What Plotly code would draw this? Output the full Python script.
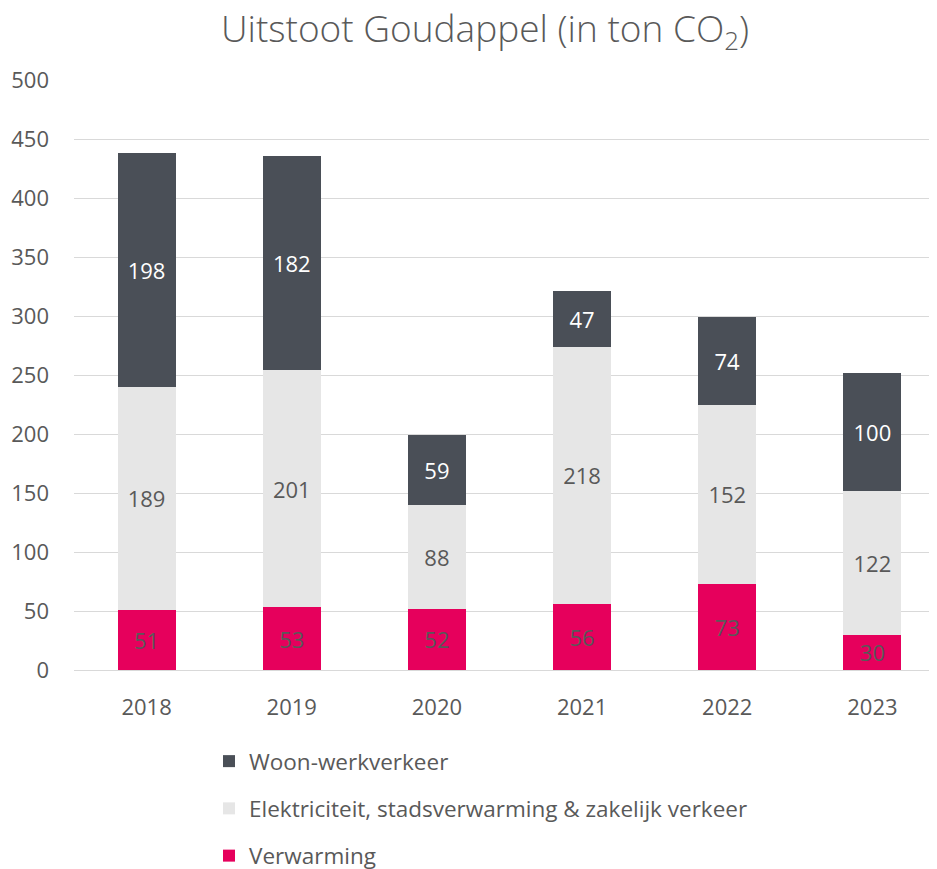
import plotly.graph_objects as go

years = ["2018", "2019", "2020", "2021", "2022", "2023"]
verwarming = [51, 53, 52, 56, 73, 30]
elektriciteit = [189, 201, 88, 218, 152, 122]
woon_werk = [198, 182, 59, 47, 74, 100]

names = ["Verwarming", "Elektriciteit, stadsverwarming & zakelijk verkeer", "Woon-werkverkeer"]
colors = ["#E6005C", "#E6E6E6", "#4A4F57"]
label_colors = ["#595959", "#595959", "#FFFFFF"]
series = [verwarming, elektriciteit, woon_werk]

FONT = "Open Sans"

fig = go.Figure()
for i, (nm, vals) in enumerate(zip(names, series)):
    fig.add_trace(go.Bar(
        x=years, y=vals, name=nm,
        marker=dict(color=colors[i], line=dict(width=0)),
        text=[str(v) for v in vals],
        textposition="inside",
        insidetextanchor="middle",
        textangle=0,
        constraintext="none",
        insidetextfont=dict(family=FONT, size=22, color=label_colors[i]),
        legendgroup=f"g{i}",
        legendrank=10 - i,
        hoverinfo="skip",
    ))

fig.update_layout(
    width=937, height=869,
    barmode="stack",
    bargap=0.6,
    paper_bgcolor="white",
    plot_bgcolor="white",
    margin=dict(l=66, r=0, t=72, b=207, autoexpand=False),
    font=dict(family=FONT, color="#595959"),
    title=dict(
        text="Uitstoot Goudappel (in ton CO<sub>2</sub>)",
        x=477/937, xref="container", xanchor="center",
        y=1 - 21/869, yref="container", yanchor="middle",
        font=dict(family=FONT, size=37, color="#595959", weight=300),
        automargin=False,
    ),
    xaxis=dict(
        range=[-0.5, 5.5],
        showgrid=False, showline=False, zeroline=False,
        ticks="", automargin=False,
        tickfont=dict(family=FONT, size=22, color="#595959"),
        ticklabelstandoff=22,
    ),
    yaxis=dict(
        range=[0, 500], dtick=50,
        showgrid=True, gridcolor="#D9D9D9", gridwidth=1,
        zeroline=True, zerolinecolor="#D9D9D9", zerolinewidth=1,
        showline=False, ticks="", ticklen=0, automargin=False,
        tickfont=dict(family=FONT, size=22, color="#595959"),
        ticklabelstandoff=24,
    ),
    legend=dict(
        orientation="v",
        traceorder="grouped",
        tracegroupgap=15,
        x=(201 - 66) / 871, xanchor="left",
        y=-(732 - 662) / 590, yanchor="top",
        font=dict(family=FONT, size=22.5, color="#595959"),
        itemwidth=30,
        bgcolor="rgba(0,0,0,0)",
    ),
)

fig.write_html("out.html")
